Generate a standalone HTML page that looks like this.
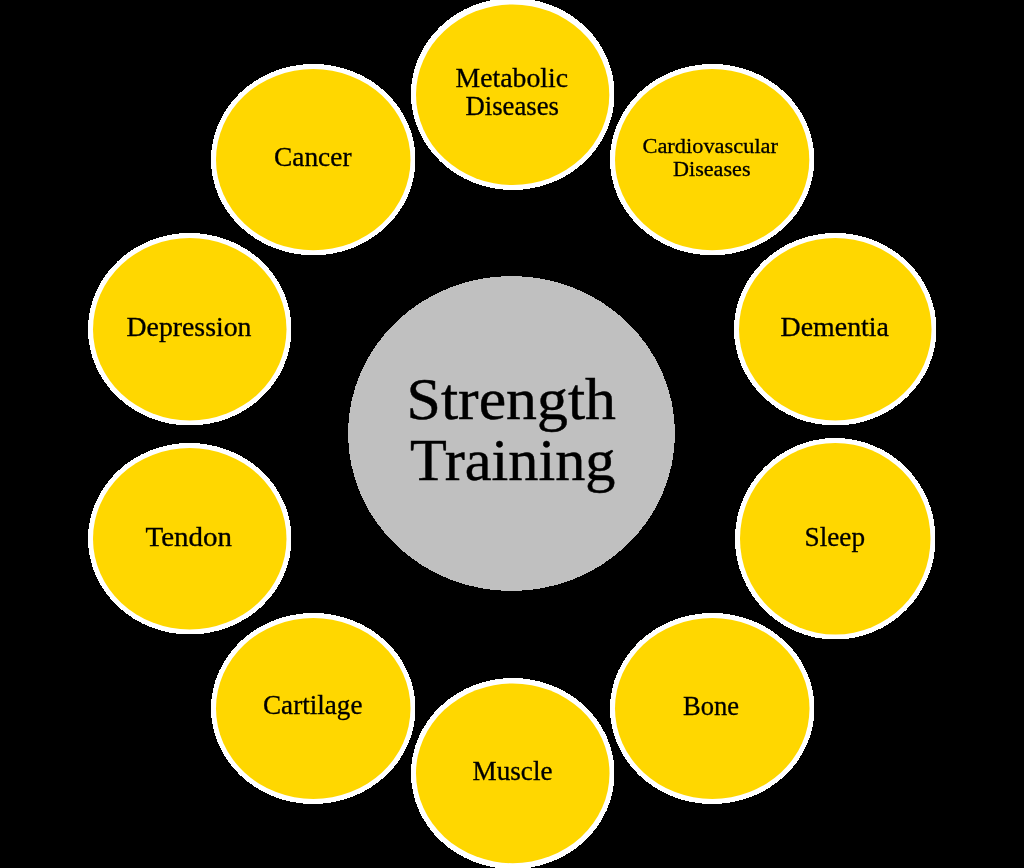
<!DOCTYPE html>
<html><head><meta charset="utf-8"><style>
html,body{margin:0;padding:0;background:#000;width:1024px;height:868px;overflow:hidden}
svg{display:block;will-change:transform}
text{font-family:"Liberation Serif",serif;fill:#000}
</style></head><body>
<svg width="1024" height="868" viewBox="0 0 1024 868">
<rect width="1024" height="868" fill="#000"/>
<ellipse cx="512.75" cy="94.00" rx="101.75" ry="96.00" fill="#fff" shape-rendering="crispEdges"/>
<ellipse cx="512.65" cy="94.75" rx="96.65" ry="90.25" fill="#FFD700"/>
<ellipse cx="712.15" cy="159.65" rx="102.15" ry="95.65" fill="#fff" shape-rendering="crispEdges"/>
<ellipse cx="712.15" cy="159.65" rx="97.15" ry="90.65" fill="#FFD700"/>
<ellipse cx="835.25" cy="329.25" rx="101.25" ry="96.25" fill="#fff" shape-rendering="crispEdges"/>
<ellipse cx="835.25" cy="329.25" rx="96.25" ry="91.25" fill="#FFD700"/>
<ellipse cx="835.25" cy="538.75" rx="100.25" ry="100.75" fill="#fff" shape-rendering="crispEdges"/>
<ellipse cx="835.25" cy="538.75" rx="95.25" ry="95.75" fill="#FFD700"/>
<ellipse cx="712.25" cy="708.50" rx="102.25" ry="95.50" fill="#fff" shape-rendering="crispEdges"/>
<ellipse cx="712.25" cy="708.50" rx="97.25" ry="90.50" fill="#FFD700"/>
<ellipse cx="512.75" cy="773.50" rx="101.75" ry="95.50" fill="#fff" shape-rendering="crispEdges"/>
<ellipse cx="512.75" cy="773.35" rx="96.75" ry="89.85" fill="#FFD700"/>
<ellipse cx="313.25" cy="708.50" rx="102.25" ry="95.50" fill="#fff" shape-rendering="crispEdges"/>
<ellipse cx="313.25" cy="708.50" rx="97.25" ry="90.50" fill="#FFD700"/>
<ellipse cx="189.75" cy="538.75" rx="101.75" ry="95.75" fill="#fff" shape-rendering="crispEdges"/>
<ellipse cx="189.75" cy="538.75" rx="96.75" ry="90.75" fill="#FFD700"/>
<ellipse cx="189.75" cy="329.25" rx="101.75" ry="96.25" fill="#fff" shape-rendering="crispEdges"/>
<ellipse cx="189.75" cy="329.25" rx="96.75" ry="91.25" fill="#FFD700"/>
<ellipse cx="313.25" cy="159.65" rx="102.25" ry="95.65" fill="#fff" shape-rendering="crispEdges"/>
<ellipse cx="313.25" cy="159.65" rx="97.25" ry="90.65" fill="#FFD700"/>
<ellipse cx="511.5" cy="433.5" rx="163.5" ry="157.5" fill="#C0C0C0" shape-rendering="crispEdges"/>
<text x="455.50" y="86.90" font-size="26.90" textLength="112.50" lengthAdjust="spacingAndGlyphs" stroke="#000" stroke-width="0.3">Metabolic</text>
<text x="465.50" y="114.70" font-size="26.90" textLength="93.50" lengthAdjust="spacingAndGlyphs" stroke="#000" stroke-width="0.3">Diseases</text>
<text x="642.50" y="152.70" font-size="21.60" textLength="135.50" lengthAdjust="spacingAndGlyphs" stroke="#000" stroke-width="0.3">Cardiovascular</text>
<text x="673.00" y="175.70" font-size="21.60" textLength="77.50" lengthAdjust="spacingAndGlyphs" stroke="#000" stroke-width="0.3">Diseases</text>
<text x="274.00" y="165.60" font-size="27.20" textLength="77.50" lengthAdjust="spacingAndGlyphs" stroke="#000" stroke-width="0.3">Cancer</text>
<text x="780.50" y="335.70" font-size="27.20" textLength="108.50" lengthAdjust="spacingAndGlyphs" stroke="#000" stroke-width="0.3">Dementia</text>
<text x="126.50" y="335.80" font-size="27.20" textLength="125.00" lengthAdjust="spacingAndGlyphs" stroke="#000" stroke-width="0.3">Depression</text>
<text x="804.50" y="545.50" font-size="27.20" textLength="60.50" lengthAdjust="spacingAndGlyphs" stroke="#000" stroke-width="0.3">Sleep</text>
<text x="145.50" y="546.00" font-size="27.20" textLength="86.50" lengthAdjust="spacingAndGlyphs" stroke="#000" stroke-width="0.3">Tendon</text>
<text x="683.00" y="714.70" font-size="27.20" textLength="56.00" lengthAdjust="spacingAndGlyphs" stroke="#000" stroke-width="0.3">Bone</text>
<text x="263.00" y="714.40" font-size="27.20" textLength="99.50" lengthAdjust="spacingAndGlyphs" stroke="#000" stroke-width="0.3">Cartilage</text>
<text x="472.50" y="779.70" font-size="27.20" textLength="80.00" lengthAdjust="spacingAndGlyphs" stroke="#000" stroke-width="0.3">Muscle</text>
<text x="406.50" y="419.00" font-size="58.30" textLength="209.50" lengthAdjust="spacingAndGlyphs" stroke="#000" stroke-width="0.45">Strength</text>
<text x="410.00" y="479.50" font-size="58.30" textLength="205.50" lengthAdjust="spacingAndGlyphs" stroke="#000" stroke-width="0.45">Training</text>
</svg>
</body></html>
